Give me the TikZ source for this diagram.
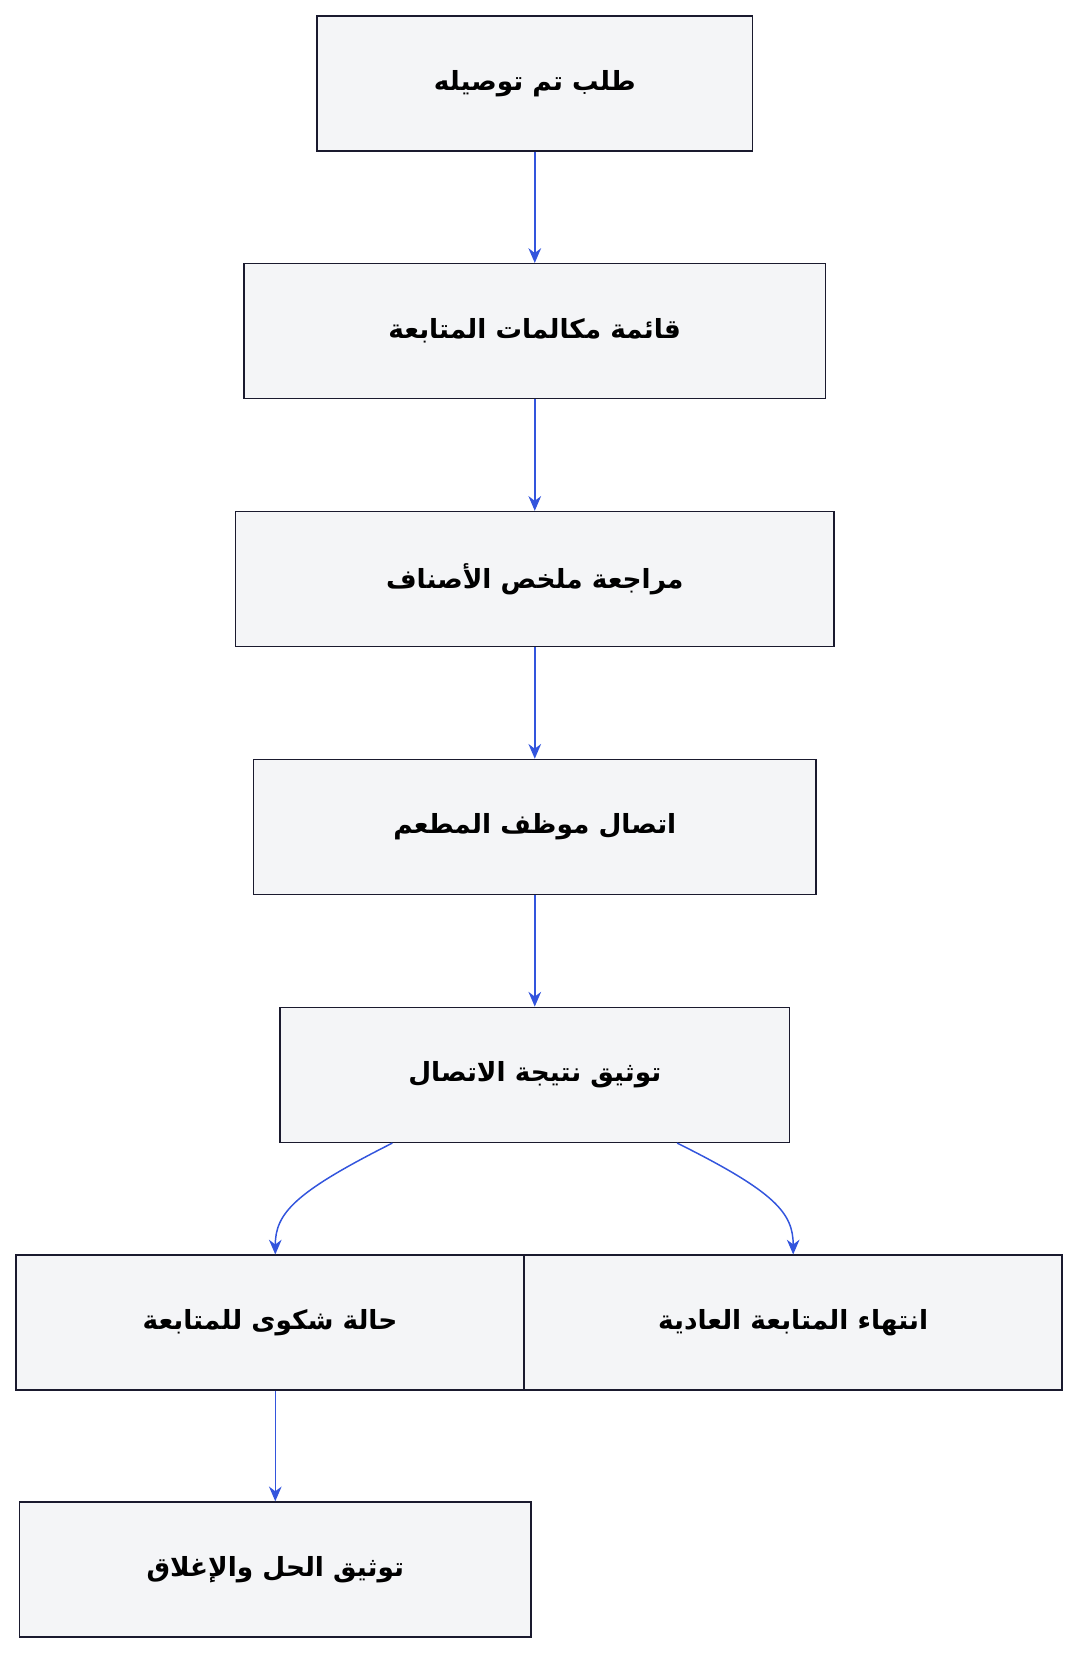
\documentclass[tikz,border=0pt]{standalone}
\usepackage{fontspec}
\newfontfamily\arabicfont[Script=Arabic]{DejaVu Sans}
\usetikzlibrary{arrows.meta}
\definecolor{linkblue}{RGB}{51,85,221}
\definecolor{boxfill}{RGB}{244,245,247}
\definecolor{boxline}{RGB}{26,26,46}
\TeXXeTstate=1
\newcommand\artext[1]{{\arabicfont\bfseries\beginR #1\endR}}
\begin{document}
\begin{tikzpicture}[x=0.5pt,y=-0.5pt,
      box/.style={draw=boxline,fill=boxfill,line width=0.7pt,minimum height=64pt,font=\fontsize{12.5}{14}\selectfont},
      arr/.style={-{Stealth[length=7pt,width=6pt]},draw=linkblue,line width=0.7pt}]
    \useasboundingbox (0,0) rectangle (1024,1570);
    \node[box,minimum width=206.5pt] (call) at (507,79) {\artext{طلب تم توصيله}};
    \node[box,minimum width=275.5pt] (list) at (507,314) {\artext{قائمة مكالمات المتابعة}};
    \node[box,minimum width=283.5pt] (review) at (507,549) {\artext{مراجعة ملخص الأصناف}};
    \node[box,minimum width=266.5pt] (staff) at (507,784) {\artext{اتصال موظف المطعم}};
    \node[box,minimum width=241.5pt] (doc) at (507,1019) {\artext{توثيق نتيجة الاتصال}};
    \node[box,minimum width=241pt] (complaint) at (256,1254) {\artext{حالة شكوى للمتابعة}};
    \node[box,minimum width=255pt] (normal) at (752,1254) {\artext{انتهاء المتابعة العادية}};
    \node[box,minimum width=242.5pt] (close) at (261,1488) {\artext{توثيق الحل والإغلاق}};

    \draw[arr] (call) -- (list);
    \draw[arr] (list) -- (review);
    \draw[arr] (review) -- (staff);
    \draw[arr] (staff) -- (doc);
    \draw[arr] ([xshift=-67.5pt]doc.south) .. controls (280,1130) and (261,1150) .. ([xshift=2.5pt]complaint.north);
    \draw[arr] ([xshift=67.5pt]doc.south) .. controls (735,1130) and (752,1150) .. (normal.north);
    \draw[arr] ([xshift=2.5pt]complaint.south) -- (close);
\end{tikzpicture}
\end{document}
